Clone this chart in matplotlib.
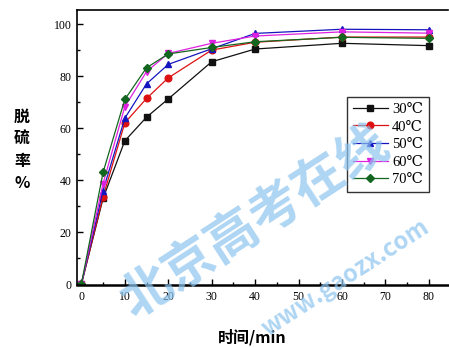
import matplotlib
matplotlib.use("Agg")
import matplotlib.pyplot as plt
from matplotlib.ticker import MultipleLocator

times = [0, 5, 10, 15, 20, 30, 40, 60, 80]
labels = ["30℃", "40℃", "50℃", "60℃", "70℃"]
s30 = [0, 33, 55.1, 64.2, 71.2, 85.5, 90.4, 92.6, 91.7]
s40 = [0, 33.6, 62, 71.4, 79.3, 90, 93, 95, 95]
s50 = [0, 36, 63.8, 77, 84.5, 90.5, 96.4, 98, 97.8]
s60 = [0, 38.7, 68.2, 81.7, 88.7, 92.6, 95.4, 97, 96.5]
s70 = [0, 43, 71, 83.2, 88.5, 91, 93.2, 94.9, 94.5]
series = [s30, s40, s50, s60, s70]
colors = ["#111111", "#dd1111", "#1515c0", "#e020e0", "#13661f"]
markers = ["s", "o", "^", "v", "D"]

plt.rcParams['font.family'] = ['Liberation Serif', 'DejaVu Serif']
fig = plt.figure(figsize=(4.49, 3.47), dpi=100)
ax = fig.add_axes([77/449, 62/347, (448-77)/449, 275/347])

for s, c, m, l in zip(series, colors, markers, labels):
    ms = 4.0 if m == "D" else 4.8
    ax.plot(times, s, color=c, marker=m, markersize=ms, linewidth=0.9, label=l)

ax.set_xlim(-1, 84.4)
ax.set_ylim(-0.3, 105.4)
ax.xaxis.set_major_locator(MultipleLocator(10))
ax.xaxis.set_minor_locator(MultipleLocator(5))
ax.yaxis.set_major_locator(MultipleLocator(20))
ax.yaxis.set_minor_locator(MultipleLocator(10))
ax.tick_params(which='both', direction='in', top=False, right=False, labelsize=8.5, pad=4)
ax.tick_params(which='major', length=4, width=1)
ax.tick_params(which='minor', length=2.5, width=1)
for sp in ['left', 'top']:
    ax.spines[sp].set_linewidth(1.2)
ax.spines['bottom'].set_linewidth(1.8)
ax.spines['right'].set_visible(False)

leg = ax.legend(loc='upper right', bbox_to_anchor=(0.949, 0.684), fontsize=10.5,
                frameon=True, fancybox=False, edgecolor='black', handlelength=2.4,
                handletextpad=0.3, labelspacing=0.3, borderpad=0.4, borderaxespad=0)
leg.get_frame().set_linewidth(1.0)

cjk = ['Noto Sans CJK SC', 'DejaVu Sans']
fig.text(22/449, 1 - 150/347, "脱\n硫\n率\n%", ha='center', va='center', fontsize=11.5,
         fontweight='bold', family=cjk, linespacing=1.45)
fig.text(252/449, 1 - 337/347, "时间/min", ha='center', va='center', fontsize=11.5,
         fontweight='bold', family=cjk)

fig.text(255/449, 1 - 222/347, "北京高考在线", ha='center', va='center', fontsize=37,
         fontweight='bold', family=cjk, color='#8cc4ee', alpha=0.7, rotation=33)
fig.text(345/449, 1 - 278/347, "www.gaozx.com", ha='center', va='center', fontsize=17,
         fontweight='bold', family=cjk, color='#8cc4ee', alpha=0.7, rotation=33)

fig.savefig("out.png", dpi=100)
